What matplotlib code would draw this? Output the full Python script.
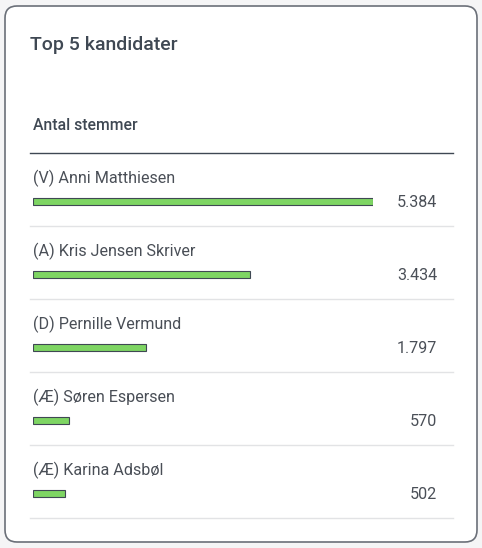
import matplotlib
matplotlib.use("Agg")
import matplotlib.pyplot as plt
from matplotlib.patches import FancyBboxPatch

title = "Top 5 kandidater"
header = "Antal stemmer"
candidates = ["(V) Anni Matthiesen", "(A) Kris Jensen Skriver", "(D) Pernille Vermund",
              "(Æ) Søren Espersen", "(Æ) Karina Adsbøl"]
votes = [5384, 3434, 1797, 570, 502]
vote_labels = ["5.384", "3.434", "1.797", "570", "502"]

W, H = 482, 548
plt.rcParams['font.family'] = ['Roboto', 'DejaVu Sans']
fig = plt.figure(figsize=(W / 100, H / 100), dpi=100)
fig.patch.set_facecolor("#f5f5f6")

bg = fig.add_axes([0, 0, 1, 1])
bg.set_xlim(0, W)
bg.set_ylim(H, 0)
bg.axis("off")

card = FancyBboxPatch((5, 6), 472, 536, boxstyle="round,pad=0,rounding_size=12",
                      facecolor="white", edgecolor="#6b7079", linewidth=1.2)
bg.add_patch(card)

txt = "#3f4853"
bg.text(30, 45, title, fontsize=14, fontweight="medium", color=txt, va="center", ha="left")
bg.text(33, 126, header, fontsize=11.3, fontweight="medium", color=txt, va="center", ha="left")
bg.plot([30, 453], [153, 153], color="#3f4853", lw=1.0)

row_h = 73
top = 153
for i, (name, lab) in enumerate(zip(candidates, vote_labels)):
    y0 = top + i * row_h
    bg.text(33, y0 + 25, name, fontsize=11.6, color="#4a4f57", va="center", ha="left")
    bg.text(437, y0 + 49.5, lab, fontsize=11.6, color="#4a4f57", va="center", ha="right")
    bg.plot([30, 453], [y0 + row_h, y0 + row_h], color="#e2e3e5", lw=1.0)

# bar axes: x from 33px to 373px, y spans the rows
x0, x1 = 33, 373
ax = fig.add_axes([x0 / W, 1 - (top + 5 * row_h) / H, (x1 - x0) / W, 5 * row_h / H])
ax.set_xlim(0, max(votes))
ax.set_ylim(5, 0)
ax.axis("off")
ax.patch.set_alpha(0)
ypos = [i + 48.5 / row_h for i in range(len(votes))]
ax.barh(ypos, votes, height=7 / row_h, color="#7ed563", edgecolor="#3f4853", linewidth=0.8)

fig.savefig("out.png", dpi=100, facecolor=fig.get_facecolor())
